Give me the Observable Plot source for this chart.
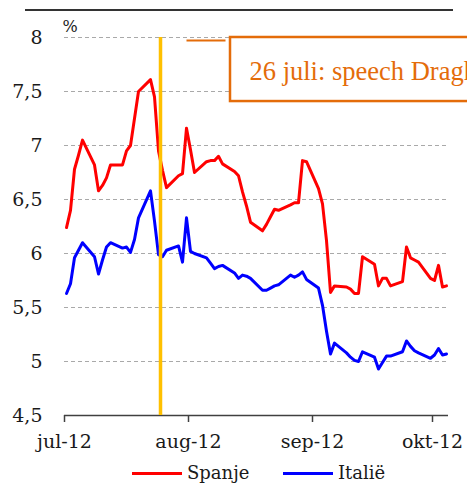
<!DOCTYPE html>
<html>
<head>
<meta charset="utf-8">
<script src="https://cdn.jsdelivr.net/npm/d3@7"></script>
<script src="https://cdn.jsdelivr.net/npm/@observablehq/plot@0.6"></script>
<style>
  html, body { margin: 0; padding: 0; background: #fff; overflow: hidden; }
  #wrap { position: relative; width: 467px; height: 488px; overflow: hidden; background: #fff; }
  #chart { position: absolute; left: 0; top: 0; }
  #topline { position: absolute; left: 25px; top: 9px; width: 428px; height: 0; border-top: 2px solid #333; }
  #legend { position: absolute; left: 0; top: 455px; width: 467px; height: 33px; font-family: "DejaVu Serif", serif; font-size: 18px; color: #1a1a1a; }
  .item { position: absolute; top: 0; display: flex; align-items: center; height: 36px; line-height: 20px; }
  .sw { display: inline-block; width: 50px; height: 3px; margin-right: 5px; }
</style>
</head>
<body>
<div id="wrap">
  <div id="chart"></div>
  <div id="topline"></div>
  <div id="legend"></div>
</div>
<script>
// ---- data ----
const dates = [
  "2012-07-02","2012-07-03","2012-07-04","2012-07-05","2012-07-06",
  "2012-07-09","2012-07-10","2012-07-11","2012-07-12","2012-07-13",
  "2012-07-16","2012-07-17","2012-07-18","2012-07-19","2012-07-20",
  "2012-07-23","2012-07-24","2012-07-25","2012-07-26","2012-07-27",
  "2012-07-30","2012-07-31",
  "2012-08-01","2012-08-02","2012-08-03",
  "2012-08-06","2012-08-07","2012-08-08","2012-08-09","2012-08-10",
  "2012-08-13","2012-08-14","2012-08-15","2012-08-16","2012-08-17",
  "2012-08-20","2012-08-21","2012-08-22","2012-08-23","2012-08-24",
  "2012-08-27","2012-08-28","2012-08-29","2012-08-30","2012-08-31",
  "2012-09-03","2012-09-04","2012-09-05","2012-09-06","2012-09-07",
  "2012-09-10","2012-09-11","2012-09-12","2012-09-13","2012-09-14",
  "2012-09-17","2012-09-18","2012-09-19","2012-09-20","2012-09-21",
  "2012-09-24","2012-09-25","2012-09-26","2012-09-27","2012-09-28",
  "2012-10-01","2012-10-02","2012-10-03","2012-10-04","2012-10-05"
];
const spanje = [
  6.24, 6.40, 6.78, 6.91, 7.05,
  6.82, 6.58, 6.63, 6.70, 6.82,
  6.82, 6.95, 7.00, 7.25, 7.50,
  7.61, 7.45, 6.95, 6.77, 6.61,
  6.72, 6.74,
  7.16, 6.96, 6.75,
  6.85, 6.86, 6.86, 6.90, 6.83,
  6.76, 6.72, 6.57, 6.44, 6.29,
  6.21, 6.27, 6.34, 6.41, 6.40,
  6.45, 6.47, 6.47, 6.86, 6.85,
  6.60, 6.46, 6.12, 5.64, 5.70,
  5.69, 5.67, 5.63, 5.63, 5.97,
  5.90, 5.70, 5.77, 5.77, 5.70,
  5.74, 6.06, 5.96, 5.94, 5.92,
  5.77, 5.75, 5.89, 5.69, 5.70
];
const italie = [
  5.63, 5.72, 5.96, 6.03, 6.10,
  5.97, 5.81, 5.94, 6.06, 6.10,
  6.05, 6.06, 6.01, 6.13, 6.33,
  6.58, 6.30, 5.99, 5.97, 6.03,
  6.07, 5.92,
  6.33, 6.02, 6.00,
  5.96, 5.91, 5.86, 5.88, 5.89,
  5.82, 5.77, 5.80, 5.79, 5.77,
  5.66, 5.66, 5.68, 5.70, 5.71,
  5.80, 5.78, 5.80, 5.83, 5.76,
  5.68, 5.52, 5.28, 5.07, 5.17,
  5.08, 5.04, 5.01, 5.00, 5.09,
  5.04, 4.93, 4.99, 5.05, 5.05,
  5.09, 5.19, 5.14, 5.10, 5.08,
  5.03, 5.06, 5.12, 5.06, 5.07
];
const seriesNames = ["Spanje", "Italië"];
const seriesColors = ["#ff0000", "#0000ff"];
const yTicks = [4.5, 5, 5.5, 6, 6.5, 7, 7.5, 8];
const monthTicks = ["2012-07-01T12:00Z","2012-08-01T12:00Z","2012-09-01T12:00Z","2012-10-01T12:00Z"];
const monthLabels = ["jul-12", "aug-12", "sep-12", "okt-12"];
const xDomain = ["2012-07-01T12:00Z", "2012-10-05T12:00Z"];
const annotationText = "26 juli: speech Draghi";
const speechDate = "2012-07-25T12:00Z";
// annotation box & connector, in data units
const boxX = ["2012-08-12T00:00Z", "2012-10-25T00:00Z"];
const boxY = [8.0, 7.407];
const textPos = {x: "2012-08-16T18:00Z", y: 7.688};
const connector = {x1: "2012-08-01T00:00Z", x2: "2012-08-10T18:00Z", y: 7.972};

// ---- build ----
const rows = dates.map((d, i) => ({date: new Date(d), Spanje: spanje[i], Italie: italie[i]}));
const fmtY = d => String(d).replace(".", ",");

const chart = Plot.plot({
  width: 467,
  height: 455,
  marginTop: 37,
  marginBottom: 40,
  marginLeft: 64,
  marginRight: 19,
  style: "font-family: 'DejaVu Serif', serif; font-size: 19px; color: #1a1a1a; background: transparent; overflow: visible;",
  x: {type: "utc", domain: xDomain.map(d => new Date(d))},
  y: {domain: [4.5, 8]},
  marks: [
    Plot.ruleY(yTicks.filter(v => v > 4.5), {stroke: "#a9a9a9", strokeWidth: 1, strokeDasharray: "4,3"}),
    Plot.ruleY([4.5], {stroke: "#404040", strokeWidth: 1.6}),
    Plot.axisY({ticks: yTicks, tickSize: 0, tickPadding: 22, tickFormat: fmtY, label: null, fontSize: 19, fill: "#1a1a1a"}),
    Plot.axisX({ticks: monthTicks.map(d => new Date(d)), tickSize: 7, tickPadding: 12, stroke: "#404040", strokeWidth: 1.5,
      tickFormat: d => monthLabels[d.getUTCMonth() - 6], label: null, fontSize: 19, fill: "#1a1a1a"}),
    Plot.text(["%"], {frameAnchor: "top-left", textAnchor: "start", lineAnchor: "middle", dx: -2, dy: -11, fontSize: 16, fill: "#1a1a1a"}),
    Plot.line(rows, {x: "date", y: "Spanje", stroke: seriesColors[0], strokeWidth: 3}),
    Plot.line(rows, {x: "date", y: "Italie", stroke: seriesColors[1], strokeWidth: 3}),
    Plot.ruleX([new Date(speechDate)], {y1: 4.5, y2: 8, stroke: "#ffc000", strokeWidth: 3.5}),
    Plot.link([connector], {x1: d => new Date(d.x1), x2: d => new Date(d.x2), y1: "y", y2: "y", stroke: "#e46c0a", strokeWidth: 2}),
    Plot.rect([0], {x1: () => new Date(boxX[0]), x2: () => new Date(boxX[1]), y1: () => boxY[0], y2: () => boxY[1],
      fill: "white", stroke: "#e46c0a", strokeWidth: 2.5}),
    Plot.text([annotationText], {x: () => new Date(textPos.x), y: () => textPos.y, text: d => d, textAnchor: "start", lineAnchor: "middle",
      fontFamily: "'Liberation Serif', serif", fontSize: 26.5, fill: "#e46c0a"})
  ]
});
document.getElementById("chart").appendChild(chart);

// ---- legend ----
const legend = document.getElementById("legend");
const legendLeft = [132, 283];
seriesNames.forEach((name, i) => {
  const item = document.createElement("div");
  item.className = "item";
  item.style.left = legendLeft[i] + "px";
  const sw = document.createElement("span");
  sw.className = "sw";
  sw.style.background = seriesColors[i];
  const tx = document.createElement("span");
  tx.textContent = name;
  item.appendChild(sw);
  item.appendChild(tx);
  legend.appendChild(item);
});
</script>
</body>
</html>
